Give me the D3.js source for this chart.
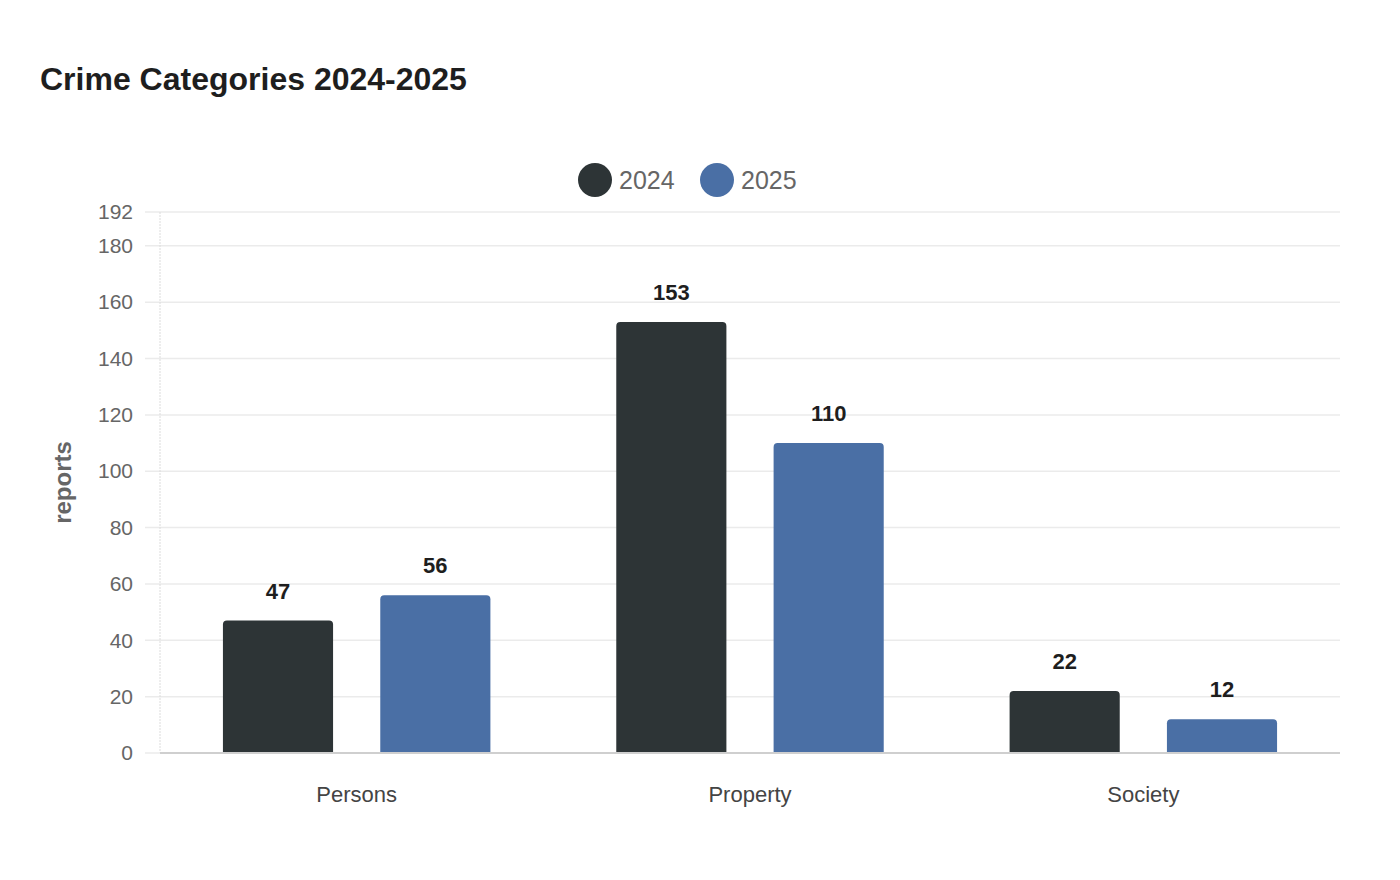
<!DOCTYPE html>
<html><head><meta charset="utf-8">
<script src="https://cdn.jsdelivr.net/npm/d3@7"></script>
<style>body{margin:0;background:#fff} svg text{font-family:"Liberation Sans",Arial,sans-serif !important}</style>
</head><body><svg id="c" width="1400" height="880" font-family="Liberation Sans"></svg>
<script>
const categories = ["Persons", "Property", "Society"];
const seriesNames = ["2024", "2025"];
const values2024 = [47, 153, 22];
const values2025 = [56, 110, 12];
const yTicks = [0, 20, 40, 60, 80, 100, 120, 140, 160, 180, 192];
const colors = ["#2d3436", "#4a6fa5"];

const svg = d3.select("#c");
const m = {l: 160, r: 1340, t: 212, b: 753};
const y = d3.scaleLinear().domain([0, 192]).range([m.b, m.t]);
const x0 = d3.scaleBand().domain(categories).range([m.l, m.r]);
const bw = x0.bandwidth();
const x1 = d3.scaleBand().domain(seriesNames).range([0.1 * bw, 0.9 * bw]).paddingInner(0.3).paddingOuter(0.15);

svg.append("text").attr("x", 40).attr("y", 90).text("Crime Categories 2024-2025")
  .attr("font-size", 32).attr("font-weight", "bold").attr("fill", "#1e1e1e");

// grid
svg.append("g").selectAll("line").data(yTicks.filter(d => d > 0)).join("line")
  .attr("x1", 145).attr("x2", m.r).attr("y1", d => y(d)).attr("y2", d => y(d))
  .attr("stroke", "#ebebeb").attr("stroke-width", 1.5);
svg.append("line").attr("x1", m.l).attr("x2", m.l).attr("y1", m.t).attr("y2", m.b)
  .attr("stroke", "#dcdcdc").attr("stroke-width", 1).attr("stroke-dasharray", "2,1");
svg.append("line").attr("x1", 145).attr("x2", m.l).attr("y1", y(0)).attr("y2", y(0))
  .attr("stroke", "#ebebeb").attr("stroke-width", 1.5);

const yAxis = d3.axisLeft(y).tickValues(yTicks).tickSize(0).tickPadding(0);
const ya = svg.append("g").attr("transform", `translate(${m.l - 27},0)`).call(yAxis);
ya.select(".domain").remove();
ya.selectAll("text").attr("font-size", 21).attr("fill", "#666");

svg.append("text").attr("transform", `translate(71,${(m.t + m.b) / 2}) rotate(-90)`)
  .attr("text-anchor", "middle").attr("font-size", 24).attr("font-weight", "bold").attr("fill", "#666").text("reports");

const data = categories.map((c, i) => ({cat: c, vals: [values2024[i], values2025[i]]}));
const r = 4;
function barPath(x, w, top, bottom) {
  return `M${x},${bottom}V${top + r}Q${x},${top} ${x + r},${top}H${x + w - r}Q${x + w},${top} ${x + w},${top + r}V${bottom}Z`;
}
const groups = svg.append("g").selectAll("g").data(data).join("g")
  .attr("transform", d => `translate(${x0(d.cat)},0)`);
groups.selectAll("path").data(d => d.vals.map((v, j) => ({k: seriesNames[j], v, j}))).join("path")
  .attr("d", d => barPath(x1(d.k), x1.bandwidth(), y(d.v), y(0)))
  .attr("fill", d => colors[d.j]);
groups.selectAll("text").data(d => d.vals.map((v, j) => ({k: seriesNames[j], v}))).join("text")
  .attr("x", d => x1(d.k) + x1.bandwidth() / 2).attr("y", d => y(d.v) - 22)
  .attr("text-anchor", "middle").attr("font-size", 22).attr("font-weight", "bold").attr("fill", "#1e1e1e")
  .text(d => d.v);

svg.append("line").attr("x1", m.l).attr("x2", m.r).attr("y1", y(0)).attr("y2", y(0))
  .attr("stroke", "#cfcfcf").attr("stroke-width", 2);

const xa = svg.append("g").attr("transform", `translate(0,${m.b})`).call(d3.axisBottom(x0).tickSize(0).tickPadding(33));
xa.select(".domain").remove();
xa.selectAll("text").attr("font-size", 22).attr("fill", "#444");

// legend
const leg = svg.append("g");
const lx = [595, 717];
seriesNames.forEach((s, i) => {
  leg.append("circle").attr("cx", lx[i]).attr("cy", 180).attr("r", 17).attr("fill", colors[i]);
  leg.append("text").attr("x", lx[i] + 24).attr("y", 189).attr("font-size", 25).attr("fill", "#666").text(s);
});
</script></body></html>
